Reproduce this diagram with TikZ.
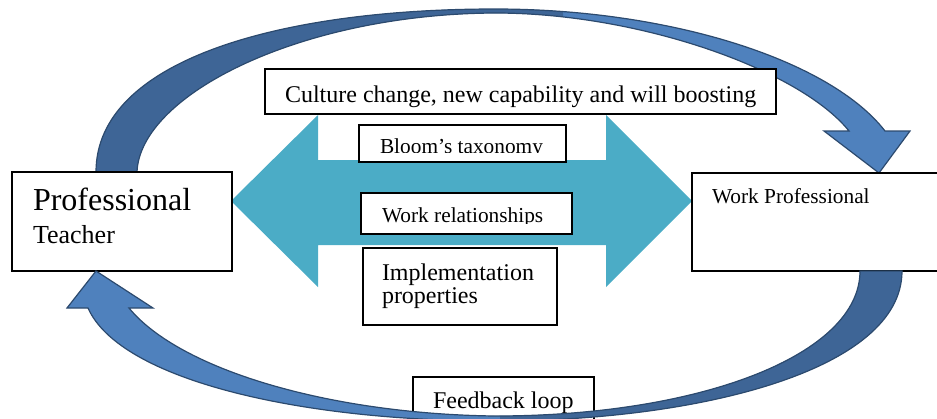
\documentclass[tikz,border=0pt]{standalone}
\usepackage{fontspec}
\setmainfont{Liberation Serif}
\definecolor{aqua}{HTML}{4BACC6}
\definecolor{blueL}{HTML}{4F81BD}
\definecolor{blueD}{HTML}{3E6596}
\definecolor{blueO}{HTML}{2C4A6E}
\begin{document}
\begin{tikzpicture}[x=0.75pt,y=-0.75pt,
  box/.style={draw=black, line width=0.8pt, fill=white},
  lbl/.style={anchor=base west, inner sep=0pt, outer sep=0pt},
  band/.style={draw=blueO, line width=0.9pt, line join=miter}]
\useasboundingbox (0,0) rectangle (937,418);
\clip (0,0) rectangle (937,418);
\def\toparrowpath{(96,172) .. controls (96,60) and (280,9) .. (495,9)
  .. controls (670,9) and (830,60) .. (885,131) -- (910,131) -- (879,173)
  -- (824,131) -- (849,131) .. controls (800,70) and (640,13) .. (495,13)
  .. controls (300,14) and (140,95) .. (137,172) -- cycle}
\def\botarrowpath{(902,271) .. controls (902,370) and (700,421) .. (495,421)
  .. controls (300,421) and (120,380) .. (88,308) -- (67,308) -- (96,271)
  -- (153,308) -- (129,308) .. controls (180,370) and (330,414) .. (495,416)
  .. controls (700,416) and (860,355) .. (860,271) -- cycle}
% top curved arrow
\fill[blueL] \toparrowpath;
\begin{scope}\clip (0,0) rectangle (563,418); \fill[blueD] \toparrowpath;\end{scope}
\draw[band] \toparrowpath;
% cyan double arrow
\fill[aqua] (231,201) -- (318,115) -- (318,160) -- (606,160) -- (606,115)
  -- (692,201) -- (606,287) -- (606,245) -- (318,245) -- (318,287) -- cycle;
% boxes
\draw[box] (12,172) rectangle (232,271);
\node[lbl, font=\fontsize{24}{28}\selectfont] (prof) at (33,210) {Professional};
\node[lbl, font=\fontsize{19.5}{23}\selectfont] (teach) at (33,243) {Teacher};
\draw[box] (692,173) rectangle (945,271);
\node[lbl, font=\fontsize{16}{19}\selectfont] (work) at (712,203) {Work Professional};
\draw[box] (265,69) rectangle (776,114);
\node[lbl, font=\fontsize{18}{21}\selectfont] (culture) at (285,102) {Culture change, new capability and will boosting};
\draw[box] (359,125) rectangle (566,162);
\begin{scope}\clip (359,125) rectangle (566,152);
\node[lbl, font=\fontsize{16}{19}\selectfont] (bloom) at (380,153) {Bloom’s taxonomy};
\end{scope}
\draw[box] (361,193) rectangle (572,234);
\begin{scope}\clip (361,193) rectangle (572,223);
\node[lbl, font=\fontsize{16}{19}\selectfont] (rel) at (382,222) {Work relationships};
\end{scope}
\draw[box] (363,248) rectangle (557,325);
\node[lbl, font=\fontsize{18}{21}\selectfont] (impl1) at (382,280) {Implementation};
\node[lbl, font=\fontsize{18}{21}\selectfont] (impl2) at (382,303) {properties};
\draw[box] (413,377) rectangle (594,425);
\node[lbl, font=\fontsize{18}{21}\selectfont] (feed) at (433,408) {Feedback loop};
% bottom curved arrow
\fill[blueL] \botarrowpath;
\begin{scope}\clip (500,0) rectangle (937,418); \fill[blueD] \botarrowpath;\end{scope}
\draw[band] \botarrowpath;
\end{tikzpicture}
\end{document}
